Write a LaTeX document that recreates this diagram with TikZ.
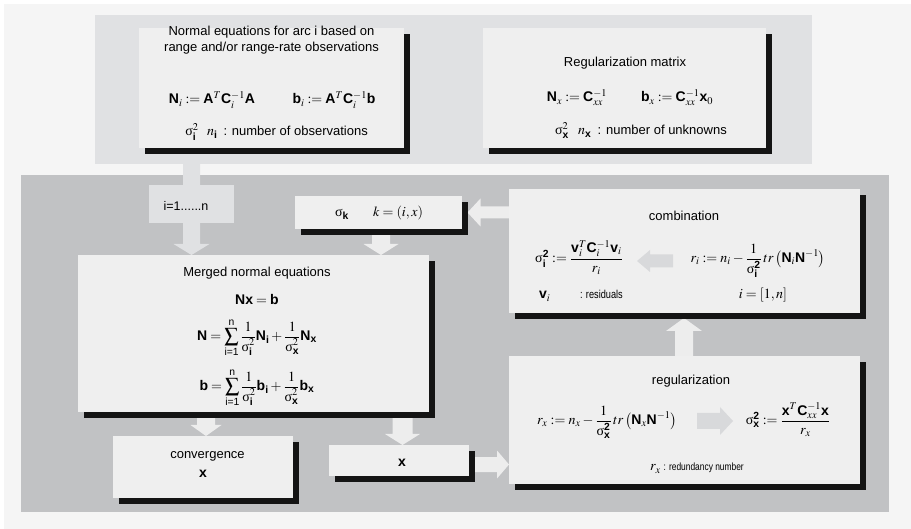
\documentclass[tikz,border=0pt]{standalone}
\usepackage{mathptmx}
\usepackage{amsmath}
\usepackage[no-math]{fontspec}
\setmainfont{Liberation Sans}
\newfontfamily\serf{Liberation Serif}
\newfontfamily\narrowf[FakeStretch=0.8]{Liberation Sans}
\usetikzlibrary{calc,shadows}
\definecolor{bgc}{HTML}{F5F5F5}
\definecolor{upc}{HTML}{E0E1E3}
\definecolor{loc}{HTML}{C1C2C4}
\definecolor{boxc}{HTML}{EFEFEF}
\definecolor{shc}{HTML}{141414}
\definecolor{arc}{HTML}{EDEDED}
\definecolor{iarc}{HTML}{D8D9DB}
\newcommand\B[1]{\text{\normalfont\bfseries #1}}
\newcommand\sg{\text{\normalfont\serf σ\vphantom{A}}}
\newcommand\fat[6]{%
  \coordinate (fatB) at ($(#2)!#5!(#1)$);
  \fill[#6] ($(#1)!#3!90:(#2)$) -- ($(fatB)!#3!90:(#2)$) -- ($(fatB)!#4!90:(#2)$) -- (#2)
    -- ($(fatB)!#4!-90:(#2)$) -- ($(fatB)!#3!-90:(#2)$) -- ($(#1)!#3!-90:(#2)$) -- cycle;}
\pgfdeclarelayer{back}
\pgfdeclarelayer{mid}
\pgfsetlayers{back,mid,main}
\tikzset{
  panel/.style={inner sep=0,outer sep=0,draw=none},
  box/.style={fill=boxc,inner sep=0,outer sep=0,
    drop shadow={shadow xshift=6pt,shadow yshift=-6pt,fill=shc,opacity=1}},
  tt/.style={font=\fontsize{13}{16}\selectfont,inner sep=0,align=center,anchor=base},
  ts/.style={font=\fontsize{13}{15}\selectfont,inner sep=0,anchor=base east},
  tn/.style={inner sep=0,anchor=base east},
  mm/.style={font=\fontsize{14}{16}\selectfont,inner sep=0,anchor=base},
}
\begin{document}
\begin{tikzpicture}[x=1pt,y=-1pt]
\useasboundingbox (0,0) rectangle (911,529);
\begin{pgfonlayer}{back}
\fill[white] (0,0) rectangle (911,529);
\fill[bgc] (4,4) rectangle (911,529);
\node[panel,fill=upc,minimum width=717pt,minimum height=149pt] (upper) at (453.5,89.5) {};
\node[panel,fill=loc,minimum width=868pt,minimum height=337pt] (lower) at (455,343.5) {};
\end{pgfonlayer}

% boxes
\node[box,minimum width=265pt,minimum height=120pt] (nbox) at (271.5,88) {};
\node[box,minimum width=283pt,minimum height=120pt] (rbox) at (624.5,88) {};
\node[panel,fill=upc,minimum width=85pt,minimum height=38pt] (ibox) at (191.5,204) {};
\node[box,minimum width=167pt,minimum height=33pt] (skbox) at (378.5,212.5) {};
\node[box,minimum width=351pt,minimum height=157pt] (merged) at (253.5,333.5) {};
\node[box,minimum width=180pt,minimum height=62pt] (conv) at (203,467) {};
\node[box,minimum width=140pt,minimum height=31pt] (xbox) at (399,460.5) {};
\node[box,minimum width=351pt,minimum height=124pt] (comb) at (684.5,251) {};
\node[box,minimum width=351pt,minimum height=128pt] (regu) at (684.5,420) {};

% connectors
\begin{pgfonlayer}{mid}
\coordinate (a1s) at (ibox.center |- upper.south);
\coordinate (a1e) at (ibox.center |- merged.north);
\fat{a1s}{a1e}{8.5pt}{18pt}{11pt}{upc}
\coordinate (a2s) at ($(skbox.south)+(2.5,0)$);
\coordinate (a2e) at (a2s |- merged.north);
\fat{a2s}{a2e}{9pt}{17.5pt}{11pt}{arc}
\coordinate (a3e) at ($(conv.north)+(3,0)$);
\coordinate (a3s) at (a3e |- merged.south);
\fat{a3s}{a3e}{9pt}{15.5pt}{11pt}{arc}
\coordinate (a4e) at ($(xbox.north)+(3.5,0)$);
\coordinate (a4s) at (a4e |- merged.south);
\fat{a4s}{a4e}{10pt}{17.5pt}{11pt}{arc}
\coordinate (a5s) at ($(xbox.east)+(0,4)$);
\coordinate (a5e) at (a5s -| regu.west);
\fat{a5s}{a5e}{7.5pt}{14pt}{12pt}{arc}
\coordinate (a6s) at (comb.west |- skbox.east);
\coordinate (a6e) at ($(skbox.east)+(5.5,0)$);
\fat{a6s}{a6e}{6pt}{14pt}{13pt}{arc}
\coordinate (a7s) at ($(regu.north)+(-0.5,0)$);
\coordinate (a7e) at ($(comb.south)+(-0.5,5)$);
\fat{a7s}{a7e}{9pt}{18pt}{13pt}{arc}
\end{pgfonlayer}

% internal arrows
\coordinate (c1s) at (673,261);
\coordinate (c1e) at (637,261);
\fat{c1s}{c1e}{6.5pt}{11pt}{13pt}{iarc}
\coordinate (r1s) at (697,421);
\coordinate (r1e) at (733,421);
\fat{r1s}{r1e}{8pt}{14pt}{13pt}{iarc}

% texts: normal equations box
\node[tt] (nt1) at (271.5,52) {Normal equations for arc i based on\\range and/or range-rate observations};
\node[mm] (neq1) at (212,104) {$\B{N}_{i} := \B{A}^{T}\B{C}_{i}^{-1}\B{A}$};
\node[mm] (neq2) at (334,104) {$\B{b}_{i} := \B{A}^{T}\B{C}_{i}^{-1}\B{b}$};
\node[mm] (nsg) at (192,136) {$\sg_{\B{i}}^{2}$};
\node[mm,anchor=base west] (nno) at (207,136) {$n_{\B{i}}$};
\node[ts] (nnt) at (368,136) {: number of observations};

% regularization matrix box
\node[tt] (rt1) at (625,67) {Regularization matrix};
\node[mm] (req1) at (577,102) {$\B{N}_{x} := \B{C}_{xx}^{-1}$};
\node[mm] (req2) at (677,102) {$\B{b}_{x} := \B{C}_{xx}^{-1}\B{x}_{0}$};
\node[mm] (rsg) at (562,135) {$\sg_{\B{x}}^{2}$};
\node[mm,anchor=base west] (rno) at (578,135) {$n_{\B{x}}$};
\node[ts] (rnt) at (727,135) {: number of unknowns};

% i box and sigma_k
\node[tt,font=\fontsize{12.5}{15}\selectfont] (it) at (186,211) {i=1......n};
\node[mm] (skt1) at (342,217) {$\sg_{\B{k}}$};
\node[mm] (skt2) at (398,217) {$k=(i,x)$};

% merged
\node[tt] (mt1) at (257,277) {Merged normal equations};
\node[mm] (meq1) at (257,305) {$\B{Nx} = \B{b}$};
\node[mm] (meq2) at (257,340.5) {$\B{N} = \displaystyle\sum_{\text{i=1}}^{\text{n}}\frac{1}{\sg_{\B{i}}^{2}}\B{N}_{\B{i}} + \frac{1}{\sg_{\B{x}}^{2}}\B{N}_{\B{x}}$};
\node[mm] (meq3) at (257,390.5) {$\B{b} = \displaystyle\sum_{\text{i=1}}^{\text{n}}\frac{1}{\sg_{\B{i}}^{2}}\B{b}_{\B{i}} + \frac{1}{\sg_{\B{x}}^{2}}\B{b}_{\B{x}}$};

% convergence and x
\node[tt] (ct1) at (207.5,458) {convergence};
\node[mm] (ct2) at (203,478) {$\B{x}$};
\node[mm] (xt) at (402,466) {$\B{x}$};

% combination
\node[tt] (cbt) at (684,221) {combination};
\node[mm] (cbl) at (579,262.5) {$\sg_{\B{i}}^{\B{2}} := \dfrac{\B{v}_{i}^{T}\B{C}_{i}^{-1}\B{v}_{i}}{r_{i}}$};
\node[mm] (cbr) at (758,262.5) {$r_{i} := n_{i} - \dfrac{1}{\sg_{\B{i}}^{\B{2}}}\,tr\,\bigl(\B{N}_{i}\B{N}^{-1}\bigr)$};
\node[mm,anchor=base west] (cbv) at (539,299) {$\B{v}_{i}$};
\node[tn,font=\narrowf\fontsize{11.5}{13}\selectfont] (cbvt) at (623,299) {: residuals};
\node[mm] (cbi) at (763,299) {$i=[1,n]$};

% regularization
\node[tt] (rgt) at (691,385) {regularization};
\node[mm] (rgl) at (607,424.5) {$r_{x} := n_{x} - \dfrac{1}{\sg_{\B{x}}^{\B{2}}}\,tr\,\bigl(\B{N}_{x}\B{N}^{-1}\bigr)$};
\node[mm] (rgr) at (788,424.5) {$\sg_{\B{x}}^{\B{2}} := \dfrac{\B{x}^{T}\B{C}_{xx}^{-1}\B{x}}{r_{x}}$};
\node[mm,anchor=base west] (rgn) at (650,471) {$r_{x}$};
\node[tn,font=\narrowf\fontsize{10.5}{12}\selectfont] (rgnt) at (744,471) {: redundancy number};
\end{tikzpicture}
\end{document}
